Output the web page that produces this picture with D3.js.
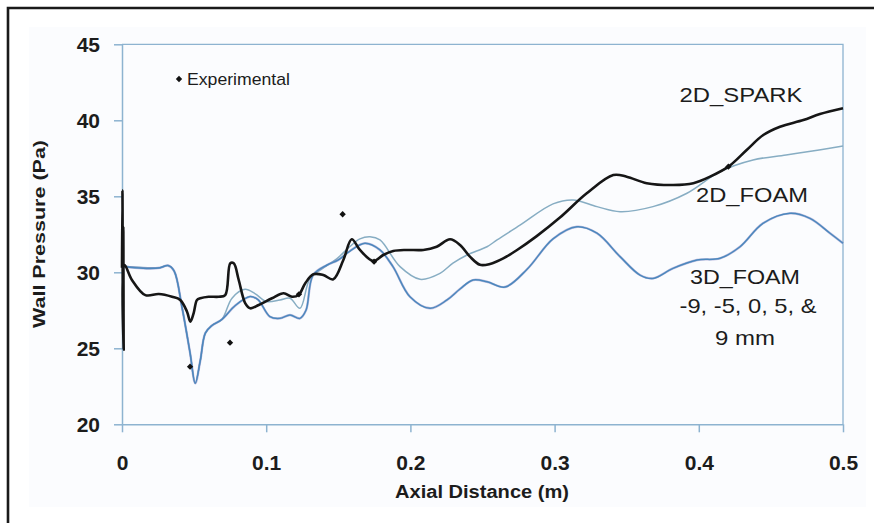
<!DOCTYPE html>
<html>
<head>
<meta charset="utf-8">
<script src="https://cdn.jsdelivr.net/npm/d3@7"></script>
<style>
  html, body { margin: 0; padding: 0; background: #ffffff; }
  svg { display: block; }
  text { font-family: "Liberation Sans", Arial, sans-serif; fill: #1c1c1c; }
</style>
</head>
<body>
<svg id="chart" width="874" height="523"></svg>
<script>
// Wall pressure along the axial distance: simulations and measurements

// 2D_SPARK simulation (axial distance in m, pressure in Pa)
const sparkX = [0, 0.0003, 0.0006, 0.0009, 0.0012, 0.0016, 0.0069, 0.0162, 0.0255, 0.0347, 0.0404, 0.0451, 0.0474, 0.0497, 0.052, 0.0543, 0.0601, 0.0671, 0.0716, 0.0751, 0.0775, 0.0809, 0.0855, 0.089, 0.0948, 0.104, 0.1121, 0.1179, 0.1225, 0.1271, 0.1327, 0.1396, 0.1465, 0.1535, 0.1593, 0.165, 0.1743, 0.1812, 0.1881, 0.1974, 0.2089, 0.2182, 0.2275, 0.2344, 0.2413, 0.2483, 0.2552, 0.2644, 0.2737, 0.2876, 0.3037, 0.3223, 0.3407, 0.35, 0.3639, 0.3823, 0.3962, 0.4078, 0.4205, 0.4332, 0.4447, 0.4563, 0.4725, 0.484, 0.5];
const sparkY = [30.3, 35.4, 27.6, 33.0, 24.9, 30.5, 29.5, 28.5, 28.57, 28.39, 28.18, 27.41, 26.75, 27.32, 28.18, 28.29, 28.39, 28.39, 28.5, 30.59, 30.59, 29.51, 27.96, 27.63, 27.85, 28.29, 28.62, 28.39, 28.51, 29.28, 29.87, 29.82, 29.54, 30.81, 32.17, 31.47, 30.74, 31.14, 31.4, 31.47, 31.47, 31.68, 32.17, 31.8, 31.03, 30.49, 30.55, 30.92, 31.45, 32.38, 33.6, 35.2, 36.4, 36.29, 35.86, 35.74, 35.86, 36.29, 36.95, 38.05, 39.03, 39.58, 40.02, 40.41, 40.79];

// 2D_FOAM simulation
const foam2dX = [0, 0.009, 0.0194, 0.0264, 0.0319, 0.0361, 0.0416, 0.0472, 0.0508, 0.0543, 0.0578, 0.0624, 0.0693, 0.0763, 0.0853, 0.0922, 0.1003, 0.1096, 0.1165, 0.1234, 0.1304, 0.1394, 0.1491, 0.1581, 0.165, 0.172, 0.1789, 0.1928, 0.2067, 0.2205, 0.2295, 0.2393, 0.2531, 0.2601, 0.276, 0.2989, 0.3128, 0.3294, 0.3454, 0.3682, 0.3918, 0.4147, 0.4376, 0.4605, 0.4834, 0.5];
const foam2dY = [30.4, 30.35, 30.3, 30.3, 30.45, 30.1, 27.7, 24.7, 22.7, 24.2, 26.0, 26.5, 26.9, 28.3, 28.88, 28.6, 28.07, 28.18, 28.29, 27.63, 29.6, 30.27, 30.9, 31.7, 32.2, 32.34, 32.13, 30.37, 29.54, 29.93, 30.6, 31.14, 31.68, 32.13, 33.1, 34.5, 34.76, 34.32, 33.99, 34.32, 35.2, 36.62, 37.39, 37.72, 38.05, 38.31];

// 3D_FOAM simulation (-9, -5, 0, 5 and 9 mm planes, nearly coincident)
const foam3dX = [0, 0.009, 0.0194, 0.0264, 0.0319, 0.0361, 0.0416, 0.0472, 0.0508, 0.0543, 0.0578, 0.0624, 0.0693, 0.0784, 0.0888, 0.0943, 0.1026, 0.1096, 0.1165, 0.1234, 0.1276, 0.1325, 0.1422, 0.1498, 0.1581, 0.1685, 0.1789, 0.1879, 0.1997, 0.2136, 0.2254, 0.2344, 0.2434, 0.2531, 0.2656, 0.2809, 0.2989, 0.3155, 0.3294, 0.3454, 0.3592, 0.3682, 0.3821, 0.3988, 0.4147, 0.4286, 0.4445, 0.4632, 0.4771, 0.491, 0.5];
const foam3dY = [30.4, 30.3, 30.25, 30.3, 30.45, 30.1, 27.7, 24.7, 22.7, 24.2, 26.0, 26.5, 26.9, 27.8, 28.4, 28.2, 27.08, 26.97, 27.19, 26.97, 27.5, 29.82, 30.48, 30.8, 31.4, 31.91, 31.47, 30.37, 28.39, 27.63, 28.18, 28.9, 29.49, 29.38, 29.03, 30.2, 32.2, 33.0, 32.57, 31.03, 29.82, 29.6, 30.26, 30.81, 30.92, 31.68, 33.22, 33.88, 33.55, 32.57, 31.91];

// Experimental measurements
const expX = [0.0472, 0.0749, 0.1227, 0.153, 0.1748, 0.4205];
const expY = [23.79, 25.37, 28.55, 33.82, 30.7, 36.95];

// Axis ticks
const xTicks = [0, 0.1, 0.2, 0.3, 0.4, 0.5];
const xTickLabels = ["0", "0.1", "0.2", "0.3", "0.4", "0.5"];
const yTicks = [20, 25, 30, 35, 40, 45];

const svg = d3.select("#chart");
const axisColor = "#8db3d0";

// outer frame and panel background
svg.append("rect").attr("x", 29).attr("y", 27).attr("width", 837).attr("height", 480).attr("fill", "#fbfcfe");
svg.append("path").attr("d", "M8,523 V8 H874").attr("fill", "none").attr("stroke", "#1a1a1a").attr("stroke-width", 2.6);

const x = d3.scaleLinear().domain([0, 0.5]).range([122, 843]);
const y = d3.scaleLinear().domain([20, 45]).range([424.3, 44.3]);

// plot border (top and right)
svg.append("path")
  .attr("d", `M${x(0)},${y(45)} H${x(0.5)} V${y(20)}`)
  .attr("fill", "none").attr("stroke", axisColor).attr("stroke-width", 1.3);

// x axis
const gx = svg.append("g").attr("transform", `translate(0,${y(20)})`)
  .call(d3.axisBottom(x).tickValues(xTicks).tickFormat((d, i) => xTickLabels[i])
    .tickSize(8).tickSizeOuter(0).tickPadding(23));
gx.select(".domain").attr("stroke", axisColor).attr("stroke-width", 1.5);
gx.selectAll(".tick line").attr("stroke", axisColor).attr("stroke-width", 1.5);
gx.selectAll(".tick text").attr("font-size", 21).attr("font-weight", "bold")
  .attr("font-family", "'Liberation Sans', Arial, sans-serif").attr("fill", "#1c1c1c");

// y axis
const gy = svg.append("g").attr("transform", `translate(${x(0)},0)`)
  .call(d3.axisLeft(y).tickValues(yTicks).tickFormat(d3.format("d"))
    .tickSize(8).tickSizeOuter(0).tickPadding(14));
gy.select(".domain").attr("stroke", axisColor).attr("stroke-width", 1.5);
gy.selectAll(".tick line").attr("stroke", axisColor).attr("stroke-width", 1.5);
gy.selectAll(".tick text").attr("font-size", 21).attr("font-weight", "bold")
  .attr("font-family", "'Liberation Sans', Arial, sans-serif").attr("fill", "#1c1c1c");

// axis titles
svg.append("text").attr("x", 482).attr("y", 498).attr("text-anchor", "middle")
  .attr("font-size", 18).attr("font-weight", "bold")
  .attr("textLength", 174).attr("lengthAdjust", "spacingAndGlyphs")
  .text("Axial Distance (m)");
svg.append("text").attr("transform", "translate(45,234) rotate(-90)").attr("text-anchor", "middle")
  .attr("font-size", 17).attr("font-weight", "bold")
  .attr("textLength", 188).attr("lengthAdjust", "spacingAndGlyphs")
  .text("Wall Pressure (Pa)");

// curves: smooth interpolation through the sampled points
const line = d3.line().x(d => x(d[0])).y(d => y(d[1])).curve(d3.curveCatmullRom.alpha(0.5));
const zip = (xs, ys) => xs.map((v, i) => [v, ys[i]]);

const plot = svg.append("g");
plot.append("path").datum(zip(foam2dX, foam2dY)).attr("d", line)
  .attr("fill", "none").attr("stroke", "#87adc3").attr("stroke-width", 1.5);
plot.append("path").datum(zip(foam3dX, foam3dY)).attr("d", line)
  .attr("fill", "none").attr("stroke", "#8a86c4").attr("stroke-width", 2.4).attr("stroke-opacity", 0.55);
plot.append("path").datum(zip(foam3dX, foam3dY)).attr("d", line)
  .attr("fill", "none").attr("stroke", "#4b88bd").attr("stroke-width", 1.5);
plot.append("path").datum(zip(sparkX, sparkY)).attr("d", line)
  .attr("fill", "none").attr("stroke", "#161616").attr("stroke-width", 2.6).attr("stroke-linejoin", "round");

// experimental points
const diamond = d3.symbol().type(d3.symbolSquare).size(20);
plot.selectAll("path.exp").data(zip(expX, expY)).join("path").attr("class", "exp")
  .attr("d", diamond)
  .attr("transform", d => `translate(${x(d[0])},${y(d[1])}) rotate(45)`)
  .attr("fill", "#111");

// legend
svg.append("path").attr("d", diamond).attr("transform", "translate(179,79) rotate(45)").attr("fill", "#111");
svg.append("text").attr("x", 187).attr("y", 85).attr("font-size", 17)
  .attr("textLength", 103).attr("lengthAdjust", "spacingAndGlyphs").text("Experimental");

// series labels
const labels = [
  { t: "2D_SPARK", cx: 741, by: 102, w: 123 },
  { t: "2D_FOAM", cx: 752, by: 202, w: 112 },
  { t: "3D_FOAM", cx: 745, by: 284, w: 110 },
  { t: "-9, -5, 0, 5, &", cx: 748, by: 313, w: 137 },
  { t: "9 mm", cx: 745, by: 345, w: 60 }
];
svg.selectAll("text.series").data(labels).join("text").attr("class", "series")
  .attr("x", d => d.cx).attr("y", d => d.by).attr("text-anchor", "middle")
  .attr("font-size", 21).attr("textLength", d => d.w).attr("lengthAdjust", "spacingAndGlyphs")
  .text(d => d.t);
</script>
</body>
</html>
